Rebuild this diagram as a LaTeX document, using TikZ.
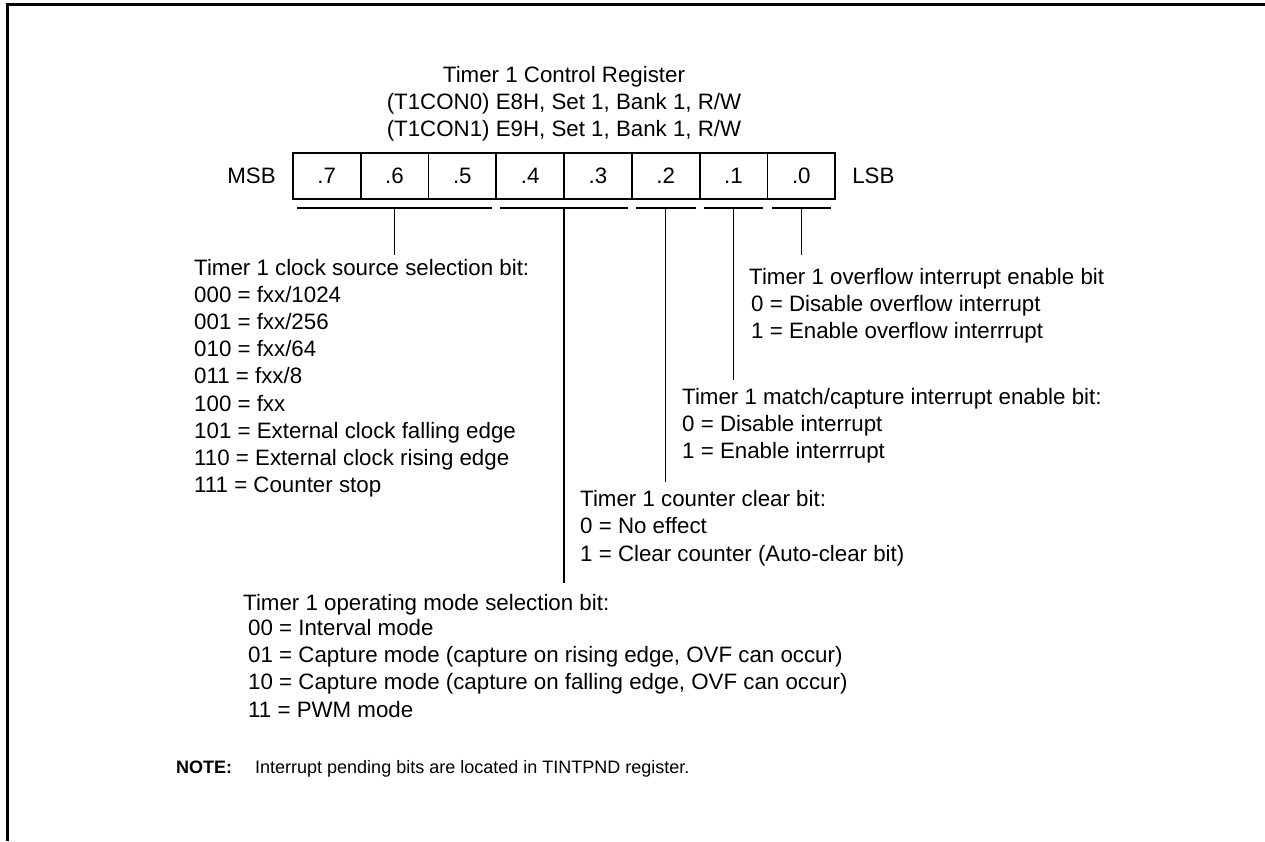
\documentclass[tikz,border=0pt]{standalone}
\usepackage{fontspec}
\setmainfont{Liberation Sans}
\usetikzlibrary{positioning,calc}

\begin{document}
\begin{tikzpicture}[
    x=1pt, y=-1pt,
    font=\fontsize{22.3}{27.2}\selectfont,
    % Define styles
    bitcell/.style = {rectangle, draw, line width=1.8pt, minimum width=67.8pt, minimum height=46pt, inner sep=0pt},
    label/.style = {inner sep=0pt},
    desc/.style = {anchor=north west, align=left, inner sep=0pt},
    bracket/.style = {line width=1.3pt},
    frameline/.style = {line width=3pt}
]

% Page frame (top and left only)
\useasboundingbox (0,0) rectangle (1265,841);
\draw[frameline] (7,841) -- (7,4) -- (1265,4);

% Register cells
\foreach \b [count=\i from 0] in {7,...,0}
    \node[bitcell] (b\b) at (326.7+67.8*\i,176) {.\b};
\node[label, left=16pt of b7] (msb) {MSB};
\node[label, right=16pt of b0] (lsb) {LSB};

% Title
\node[label, align=center, anchor=north] (title) at (564,65.7) {Timer 1 Control Register\\(T1CON0) E8H, Set 1, Bank 1, R/W\\(T1CON1) E9H, Set 1, Bank 1, R/W};

% Bit field brackets
\foreach \l/\r/\n in {b7/b5/clk, b4/b3/mode, b2/b2/clr, b1/b1/mci, b0/b0/ovf} {
    \coordinate (\n-l) at ($(\l.south west)+(5,8)$);
    \coordinate (\n-r) at ($(\r.south east)+(-5,8)$);
    \draw[bracket] (\n-l) -- (\n-r);
    \coordinate (\n) at ($(\n-l)!0.5!(\n-r)$);
}

% Descriptions
\node[desc] (clksel) at (194,258.7) {Timer 1 clock source selection bit:\\000 = fxx/1024\\001 = fxx/256\\010 = fxx/64\\011 = fxx/8\\100 = fxx\\101 = External clock falling edge\\110 = External clock rising edge\\111 = Counter stop};
\node[desc] (ovfhead) at (749,267.7) {Timer 1 overflow interrupt enable bit};
\node[desc] (ovfbits) at (751,295.4) {0 = Disable overflow interrupt\\1 = Enable overflow interrrupt};
\node[desc] (mcihead) at (682,387.7) {Timer 1 match/capture interrupt enable bit:\\0 = Disable interrupt\\1 = Enable interrrupt};
\node[desc] (clrhead) at (580,490.4) {Timer 1 counter clear bit:\\0 = No effect\\1 = Clear counter (Auto-clear bit)};
\node[desc] (modehead) at (243,593.7) {Timer 1 operating mode selection bit:};
\node[desc] (modebits) at (248,619.2) {00 = Interval mode\\01 = Capture mode (capture on rising edge, OVF can occur)\\10 = Capture mode (capture on falling edge, OVF can occur)\\11 = PWM mode};

% Leader lines
\draw[bracket] (clk) -- ($(clk |- clksel.north)+(0,-3.7)$);
\draw[bracket] (mode) -- ($(mode |- modehead.north)+(0,-11)$);
\draw[bracket] (clr) -- ($(clr |- clrhead.north)+(0,-8.7)$);
\draw[bracket] (mci) -- ($(mci |- mcihead.north)+(0,-7.7)$);
\draw[bracket] (ovf) -- ($(ovf |- ovfhead.north)+(0,-12.7)$);

% Note
\node[label, anchor=base west, font=\fontsize{18}{22}\selectfont] (note) at (176,773) {\textbf{NOTE:}\hspace{23pt}Interrupt pending bits are located in TINTPND register.};

\end{tikzpicture}
\end{document}
